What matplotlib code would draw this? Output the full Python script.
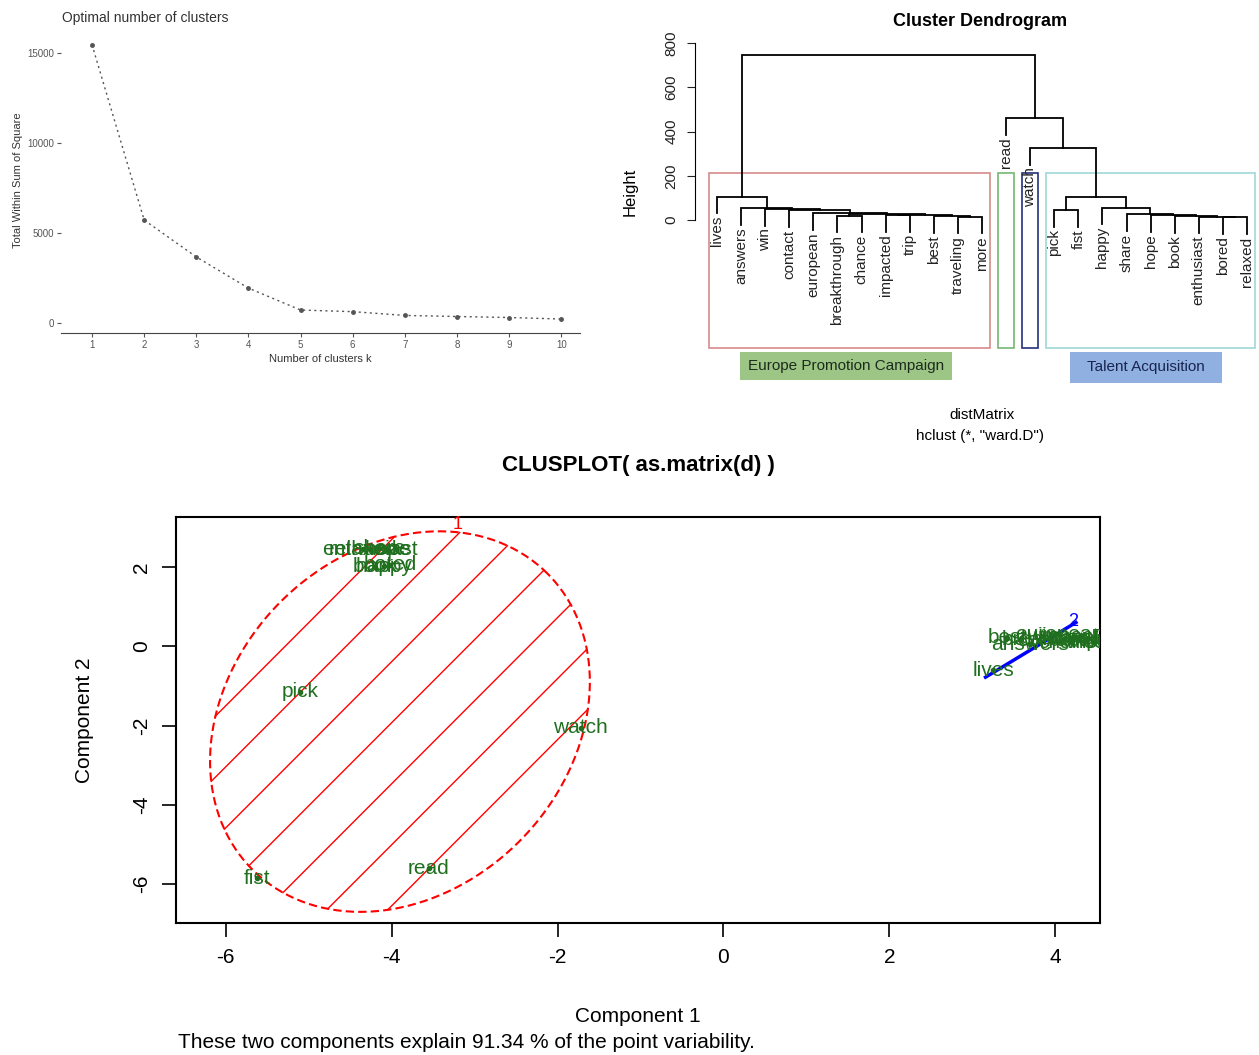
import matplotlib

matplotlib.use("Agg")
import matplotlib.pyplot as plt
import numpy as np
from matplotlib.patches import Rectangle

plt.rcParams["font.family"] = ["Liberation Sans", "DejaVu Sans"]
plt.rcParams["axes.unicode_minus"] = False

W, H = 1259, 1055

# ---- elbow plot (top left) ----
k_values = [1, 2, 3, 4, 5, 6, 7, 8, 9, 10]
wss = [15460, 5720, 3670, 1940, 720, 630, 420, 360, 305, 220]
wss_ticks = [0, 5000, 10000, 15000]

# ---- dendrogram (top right) ----
leaf_labels = ["lives", "answers", "win", "contact", "european", "breakthrough", "chance",
               "impacted", "trip", "best", "traveling", "more", "read", "watch",
               "pick", "fist", "happy", "share", "hope", "book", "enthusiast", "bored",
               "relaxed"]
# (left, right, height): strings are leaves, ints point to an earlier merge
merges = [
    ("traveling", "more", 14),       # 0
    ("best", 0, 18),                 # 1
    ("impacted", "trip", 22),        # 2
    (2, 1, 24),                      # 3
    ("breakthrough", "chance", 20),  # 4
    (4, 3, 27),                      # 5
    ("european", 5, 30),             # 6
    ("contact", 6, 44),              # 7
    ("win", 7, 50),                  # 8
    ("answers", 8, 53),              # 9
    ("lives", 9, 105),               # 10
    ("bored", "relaxed", 12),        # 11
    ("enthusiast", 11, 15),          # 12
    ("book", 12, 18),                # 13
    ("hope", 13, 21),                # 14
    ("share", 14, 26),               # 15
    ("happy", 15, 56),               # 16
    ("pick", "fist", 45),            # 17
    (17, 16, 105),                   # 18
    ("watch", 18, 324),              # 19
    ("read", 19, 460),               # 20
    (10, 20, 746),                   # 21
]
height_ticks = [0, 200, 400, 600, 800]
groups = [("lives", "more"), ("read", "read"), ("watch", "watch"), ("pick", "relaxed")]
group_colors = ["#d88a8a", "#74b874", "#24307a", "#9fd8d8"]

# ---- clusplot (bottom) ----
c1_words = ["pick", "watch", "fist", "read", "enthusiast", "share", "hope", "relaxed",
            "happy", "book", "bored"]
c1_x = [-5.10, -1.72, -5.62, -3.55, -4.26, -4.15, -4.05, -4.35, -4.09, -4.20, -4.02]
c1_y = [-1.15, -2.05, -5.85, -5.60, 2.45, 2.47, 2.43, 2.45, 2.02, 2.00, 2.05]
c2_words = ["lives", "best", "answers", "win", "contact", "european", "breakthrough",
            "chance", "impacted", "trip", "traveling", "more"]
c2_x = [3.25, 3.42, 3.70, 3.85, 3.95, 4.05, 4.10, 4.20, 4.30, 4.35, 4.40, 4.45]
c2_y = [-0.61, 0.22, 0.05, 0.25, 0.15, 0.30, 0.18, 0.10, 0.25, 0.12, 0.20, 0.10]
c1_center = (-3.9, -1.9)
c1_axis_u = (1.78, 3.73)
c1_axis_v = (-1.44, 3.02)
c2_segment_x = [3.16, 4.25]
c2_segment_y = [-0.78, 0.60]
comp_ticks_x = [-6, -4, -2, 0, 2, 4]
comp_ticks_y = [-6, -4, -2, 0, 2]

fig = plt.figure(figsize=(W / 100, H / 100), dpi=100)


def px_axes(left, top, right, bottom):
    return fig.add_axes([left / W, 1 - bottom / H, (right - left) / W, (bottom - top) / H])


def fx(px):
    return px / W


def fy(py):
    return 1 - py / H


# ================= elbow =================
grey = "#555555"
ax1 = px_axes(61, 30, 580, 333)
ax1.plot(k_values, wss, color=grey, lw=1.0, ls=(0, (1.5, 2.5)), marker="o", ms=2.5,
         mfc=grey, mec=grey)
ax1.set_xlim(0.405, 10.36)
ax1.set_ylim(-556, 16280)
for s in ("top", "right", "left"):
    ax1.spines[s].set_visible(False)
ax1.spines["bottom"].set_color("#444444")
ax1.set_xticks(k_values)
ax1.set_yticks(wss_ticks)
ax1.tick_params(labelsize=7, colors=grey, length=3, pad=2)
ax1.set_xlabel("Number of clusters k", fontsize=8, color="#333333", labelpad=3)
fig.text(fx(18), fy(180), "Total Within Sum of Square", rotation=90, fontsize=8,
         color="#333333", ha="center", va="center")
fig.text(fx(62), fy(18), "Optimal number of clusters", fontsize=10, color="#333333",
         ha="left", va="center")

# ================= dendrogram =================
ax2 = px_axes(695, 35, 1259, 348)
leaf_pos = {name: i + 1 for i, name in enumerate(leaf_labels)}
max_h = max(m[2] for m in merges)
hang = 0.1 * max_h
node_x = []
for a, b, h in merges:
    xs, tops = [], []
    for child in (a, b):
        if isinstance(child, str):
            xs.append(leaf_pos[child])
            tops.append(h - hang)
            ax2.text(leaf_pos[child], h - hang - 12, child, rotation=90, ha="center",
                     va="top", fontsize=11, color="#222222")
        else:
            xs.append(node_x[child])
            tops.append(merges[child][2])
    ax2.plot([xs[0], xs[0], xs[1], xs[1]], [tops[0], h, h, tops[1]], color="black",
             lw=1.3, solid_joinstyle="miter")
    node_x.append((xs[0] + xs[1]) / 2)

ylo = -578
heights_sorted = sorted((m[2] for m in merges), reverse=True)
cut = (heights_sorted[2] + heights_sorted[3]) / 2
for (first, last), col in zip(groups, group_colors):
    x0 = leaf_pos[first] - 0.34
    x1 = leaf_pos[last] + 0.33
    ax2.add_patch(Rectangle((x0, ylo), x1 - x0, cut - ylo, fill=False, edgecolor=col,
                            lw=1.2, clip_on=False))
ax2.set_xlim(0.087, 23.5)
ax2.set_ylim(ylo, 836)
for s in ("top", "right", "bottom"):
    ax2.spines[s].set_visible(False)
ax2.spines["left"].set_bounds(0, 800)
ax2.set_xticks([])
ax2.set_yticks(height_ticks)
ax2.set_yticklabels([str(t) for t in height_ticks], rotation=90, va="center")
ax2.tick_params(axis="y", labelsize=11, length=6, pad=6, colors="#222222")
fig.text(fx(630), fy(192), "Height", rotation=90, fontsize=12, ha="center", va="center")
fig.text(fx(980), fy(22), "Cluster Dendrogram", fontsize=13, fontweight="bold",
         ha="center", va="center")
fig.text(fx(982), fy(415), "distMatrix", fontsize=11, ha="center", va="center")
fig.text(fx(980), fy(436), 'hclust (*, "ward.D")', fontsize=11, ha="center", va="center")

fig.add_artist(Rectangle((fx(740), fy(380)), (952 - 740) / W, (380 - 352) / H,
                         transform=fig.transFigure, facecolor="#9dc585", edgecolor="none"))
fig.text(fx(846), fy(366), "Europe Promotion Campaign", fontsize=11, color="#1d2b1d",
         ha="center", va="center")
fig.add_artist(Rectangle((fx(1070), fy(383)), (1222 - 1070) / W, (383 - 352) / H,
                         transform=fig.transFigure, facecolor="#8fb0e0", edgecolor="none"))
fig.text(fx(1146), fy(367), "Talent Acquisition", fontsize=11, color="#1a2450",
         ha="center", va="center")

# ================= clusplot =================
ax3 = px_axes(176, 517, 1100, 923)
cx, cy = c1_center
ux, uy = c1_axis_u
vx, vy = c1_axis_v
t = np.linspace(0, 2 * np.pi, 300)
ex = cx + ux * np.cos(t) + vx * np.sin(t)
ey = cy + uy * np.cos(t) + vy * np.sin(t)
for s in 0.03 + 0.255 * np.arange(-3, 4):
    half = np.sqrt(1 - s * s)
    ax3.plot([cx + s * vx - half * ux, cx + s * vx + half * ux],
             [cy + s * vy - half * uy, cy + s * vy + half * uy], color="red", lw=1.0)
ax3.plot(ex, ey, color="red", lw=1.5, ls=(0, (4, 2)))
ax3.plot(c2_segment_x, c2_segment_y, color="blue", lw=2.5)

green = "#1f6f1f"
ax3.plot(c1_x, c1_y, "o", color=green, ms=3)
ax3.plot(c2_x, c2_y, "o", color=green, ms=3)
for w, x, y in zip(c1_words + c2_words, c1_x + c2_x, c1_y + c2_y):
    ax3.text(x, y, w, color=green, fontsize=15, ha="center", va="center", clip_on=True)
ax3.text(-3.2, 3.08, "1", color="red", fontsize=13, ha="center", va="center")
ax3.text(4.22, 0.62, "2", color="blue", fontsize=13, ha="center", va="center")

ax3.set_xlim(-6.60, 4.54)
ax3.set_ylim(-6.98, 3.26)
ax3.set_xticks(comp_ticks_x)
ax3.set_yticks(comp_ticks_y)
ax3.set_yticklabels([str(v) for v in comp_ticks_y], rotation=90, va="center")
ax3.tick_params(labelsize=15, length=10, width=1.2, pad=8)
for s in ax3.spines.values():
    s.set_linewidth(1.5)
fig.text(fx(638), fy(466), "CLUSPLOT( as.matrix(d) )", fontsize=16, fontweight="bold",
         ha="center", va="center")
fig.text(fx(638), fy(1017), "Component 1", fontsize=15, ha="center", va="center")
fig.text(fx(85), fy(720), "Component 2", fontsize=15, rotation=90, ha="center",
         va="center")
fig.text(fx(178), fy(1042), "These two components explain 91.34 % of the point variability.",
         fontsize=15, ha="left", va="center")

fig.savefig("out.png", dpi=100)
